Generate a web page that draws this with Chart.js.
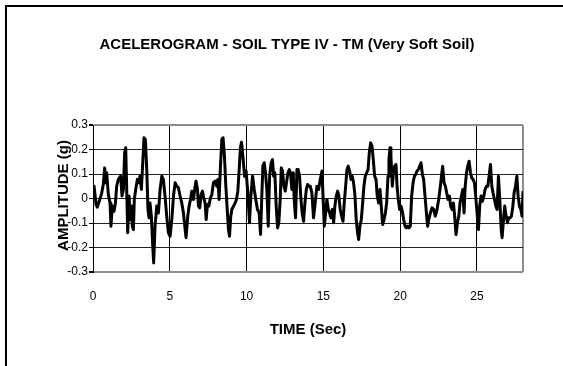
<!DOCTYPE html>
<html>
<head>
<meta charset="utf-8">
<style>
  html, body { margin: 0; padding: 0; background: #fff; overflow: hidden; }
  #frame { position: absolute; left: 5px; top: 5px; width: 700px; height: 500px;
           border-top: 2px solid #000; border-left: 2px solid #000; }
  canvas { position: absolute; left: 0; top: 0; }
</style>
<script src="https://cdn.jsdelivr.net/npm/chart.js@4.4.0/dist/chart.umd.min.js"></script>
</head>
<body>
<div id="frame"></div>
<canvas id="chart" width="563" height="366"></canvas>
<script>
const chartTitle = 'ACELEROGRAM - SOIL TYPE IV - TM (Very Soft Soil)';
const xTitle = 'TIME (Sec)';
const yTitle = 'AMPLITUDE (g)';

// time (s) of each vertex and its amplitude (g)
const timeSec = [
  0.00, 0.07, 0.20, 0.28, 0.41, 0.56, 0.67, 0.76, 0.83, 0.89, 1.00, 1.11, 1.17, 1.26, 1.37, 1.46,
  1.54, 1.65, 1.80, 1.89, 1.98, 2.06, 2.13, 2.19, 2.26, 2.35, 2.43, 2.50, 2.56, 2.63, 2.69, 2.78,
  2.89, 2.98, 3.06, 3.15, 3.24, 3.32, 3.41, 3.50, 3.58, 3.65, 3.71, 3.80, 3.89, 3.95, 4.04, 4.15,
  4.26, 4.37, 4.48, 4.58, 4.69, 4.80, 4.91, 5.02, 5.13, 5.24, 5.35, 5.45, 5.56, 5.67, 5.78, 5.89,
  6.00, 6.06, 6.17, 6.26, 6.35, 6.43, 6.54, 6.65, 6.71, 6.80, 6.87, 6.95, 7.04, 7.13, 7.21, 7.30,
  7.37, 7.45, 7.54, 7.65, 7.74, 7.84, 7.95, 8.06, 8.13, 8.21, 8.30, 8.39, 8.47, 8.56, 8.65, 8.74,
  8.82, 8.89, 8.97, 9.04, 9.15, 9.26, 9.34, 9.43, 9.52, 9.60, 9.67, 9.78, 9.87, 9.97, 10.08, 10.19,
  10.28, 10.39, 10.50, 10.60, 10.71, 10.82, 10.91, 11.00, 11.06, 11.15, 11.23, 11.32, 11.41, 11.50, 11.60, 11.69,
  11.76, 11.84, 11.93, 12.02, 12.10, 12.19, 12.26, 12.34, 12.43, 12.52, 12.60, 12.69, 12.78, 12.86, 12.95, 13.04,
  13.10, 13.19, 13.28, 13.36, 13.45, 13.54, 13.62, 13.71, 13.80, 13.89, 13.97, 14.06, 14.15, 14.25, 14.36, 14.47,
  14.58, 14.69, 14.80, 14.91, 14.97, 15.06, 15.15, 15.23, 15.32, 15.41, 15.49, 15.58, 15.67, 15.75, 15.84, 15.93,
  16.01, 16.10, 16.19, 16.28, 16.36, 16.45, 16.54, 16.62, 16.71, 16.80, 16.88, 16.97, 17.06, 17.14, 17.23, 17.30,
  17.38, 17.47, 17.56, 17.64, 17.73, 17.82, 17.91, 17.99, 18.08, 18.17, 18.25, 18.34, 18.43, 18.51, 18.60, 18.69,
  18.77, 18.86, 18.95, 19.04, 19.12, 19.21, 19.27, 19.34, 19.40, 19.49, 19.56, 19.64, 19.73, 19.80, 19.88, 19.97,
  20.06, 20.14, 20.23, 20.32, 20.40, 20.49, 20.58, 20.66, 20.75, 20.84, 20.93, 21.01, 21.10, 21.19, 21.27, 21.36,
  21.45, 21.53, 21.62, 21.71, 21.79, 21.86, 21.97, 22.08, 22.19, 22.29, 22.40, 22.51, 22.62, 22.69, 22.77, 22.86,
  22.95, 23.03, 23.12, 23.21, 23.29, 23.38, 23.47, 23.55, 23.64, 23.73, 23.82, 23.90, 23.99, 24.08, 24.16, 24.23,
  24.32, 24.40, 24.49, 24.58, 24.66, 24.75, 24.84, 24.92, 25.01, 25.10, 25.18, 25.27, 25.36, 25.45, 25.53, 25.62,
  25.71, 25.79, 25.88, 25.97, 26.05, 26.14, 26.23, 26.31, 26.40, 26.49, 26.58, 26.64, 26.73, 26.81, 26.90, 26.99,
  27.07, 27.16, 27.25, 27.34, 27.42, 27.51, 27.60, 27.68, 27.77, 27.86, 27.94, 27.98, 28.00
];
const ampG = [
  0.000, 0.050, -0.025, -0.035, -0.010, 0.020, 0.057, 0.125, 0.064, 0.105, 0.016, -0.018, -0.113, -0.031, -0.052, -0.018,
  0.050, 0.078, 0.091, 0.010, 0.037, 0.186, 0.207, 0.050, -0.140, 0.010, -0.086, -0.031, -0.113, -0.127, -0.004, 0.037,
  0.078, 0.064, 0.091, 0.037, 0.146, 0.248, 0.241, 0.118, -0.045, -0.079, -0.018, -0.072, -0.195, -0.263, -0.113, -0.031,
  -0.059, 0.037, 0.091, 0.078, 0.010, -0.072, -0.140, -0.154, -0.086, 0.010, 0.064, 0.050, 0.044, 0.010, -0.018, -0.059,
  -0.127, -0.160, -0.072, -0.031, -0.004, 0.030, -0.004, 0.050, 0.071, 0.037, -0.031, -0.038, 0.016, 0.030, 0.003, -0.018,
  -0.086, -0.024, -0.031, 0.003, 0.016, 0.064, 0.071, 0.050, 0.078, -0.004, 0.132, 0.241, 0.248, 0.173, 0.050, -0.045,
  -0.127, -0.154, -0.072, -0.045, -0.031, -0.018, -0.004, 0.030, 0.118, 0.207, 0.230, 0.159, 0.090, 0.112, 0.023, -0.099,
  0.010, 0.091, 0.037, -0.004, -0.045, -0.059, -0.147, 0.023, 0.132, 0.146, 0.105, 0.037, -0.113, 0.091, 0.146, 0.159,
  0.091, 0.105, -0.031, -0.120, -0.099, -0.004, 0.125, 0.112, 0.050, 0.030, 0.064, 0.105, 0.118, 0.105, 0.037, 0.105,
  -0.004, -0.079, 0.118, 0.118, 0.091, -0.004, -0.059, -0.093, -0.018, 0.037, 0.057, 0.050, 0.050, 0.023, -0.079, -0.018,
  0.050, 0.037, 0.078, 0.112, 0.023, -0.113, -0.059, -0.004, -0.045, -0.059, -0.079, -0.045, -0.099, -0.031, 0.010, 0.030,
  0.010, -0.045, -0.072, -0.093, -0.018, 0.050, 0.118, 0.132, 0.112, 0.078, 0.091, 0.064, 0.010, -0.086, -0.140, -0.167,
  -0.113, -0.086, -0.018, 0.050, 0.091, 0.105, 0.118, 0.186, 0.227, 0.214, 0.159, 0.091, 0.078, 0.010, -0.018, 0.037,
  -0.031, -0.106, -0.086, -0.059, -0.018, 0.091, 0.159, 0.207, 0.173, 0.050, 0.105, 0.132, 0.139, 0.050, -0.004, -0.045,
  -0.031, -0.052, -0.086, -0.113, -0.120, -0.113, -0.120, -0.113, 0.010, 0.064, 0.091, 0.098, 0.112, 0.118, 0.132, 0.146,
  0.098, 0.078, 0.010, -0.059, -0.113, -0.086, -0.059, -0.038, -0.045, -0.072, -0.045, -0.004, 0.050, 0.091, 0.132, 0.064,
  0.050, 0.023, -0.004, 0.010, -0.031, -0.045, -0.018, -0.072, -0.147, -0.099, -0.072, -0.018, 0.010, 0.037, -0.059, 0.044,
  0.105, 0.132, 0.152, 0.105, 0.084, 0.078, 0.064, 0.010, -0.059, -0.127, -0.031, 0.010, -0.011, 0.010, 0.037, 0.050,
  0.050, 0.091, 0.139, 0.050, 0.023, -0.004, -0.031, -0.045, 0.091, -0.004, -0.127, -0.160, -0.086, -0.031, -0.072, -0.099,
  -0.079, -0.079, -0.072, -0.031, 0.023, 0.050, 0.091, 0.010, -0.031, -0.045, -0.072, -0.072, 0.030
];

const xMin = 0, xMax = 28, xStep = 5;
const yMin = -0.3, yMax = 0.3, yStep = 0.1;

const points = timeSec.map((t, i) => ({ x: t, y: ampG[i] }));
const font = '"Liberation Sans", Arial, sans-serif';
const isEdgeY = v => Math.abs(Math.abs(v) - 0.3) < 1e-6;

// y axis title sits over the tick labels, as in the original
const yTitlePlugin = {
  id: 'yTitle',
  afterDraw(chart) {
    const { ctx, chartArea } = chart;
    ctx.save();
    ctx.translate(chartArea.left - 25.5, (chartArea.top + chartArea.bottom) / 2 - 3);
    ctx.rotate(-Math.PI / 2);
    ctx.font = 'bold 15px ' + font;
    ctx.fillStyle = '#000';
    ctx.textAlign = 'center';
    ctx.textBaseline = 'alphabetic';
    ctx.fillText(yTitle, 0, 0);
    ctx.restore();
  }
};

new Chart(document.getElementById('chart'), {
  type: 'line',
  data: {
    datasets: [{
      data: points,
      borderColor: '#000',
      borderWidth: 3,
      borderJoinStyle: 'round',
      pointRadius: 0,
      tension: 0,
      fill: false
    }]
  },
  options: {
    responsive: false,
    animation: false,
    devicePixelRatio: 1,
    layout: { padding: { left: 51, right: 40, top: 28, bottom: 0 } },
    plugins: {
      legend: { display: false },
      tooltip: { enabled: false },
      title: {
        display: true,
        text: chartTitle,
        color: '#000',
        font: { family: font, size: 15, weight: 'bold' },
        padding: { top: 8, bottom: 71 }
      }
    },
    scales: {
      x: {
        type: 'linear',
        min: xMin,
        max: xMax,
        afterFit: s => { s.height = 94; },
        afterBuildTicks: s => {
          const ticks = [];
          for (let v = xMin; v < xMax; v += xStep) ticks.push({ value: v });
          ticks.push({ value: xMax });
          s.ticks = ticks;
        },
        ticks: {
          padding: 17,
          color: '#000',
          font: { family: font, size: 12 },
          maxRotation: 0,
          autoSkip: false,
          callback: v => (v === xMax ? '' : String(v))
        },
        grid: {
          drawTicks: false,
          color: c => (c.tick && c.tick.value === xMax ? '#8c8c8c' : '#000'),
          lineWidth: c => (c.tick && c.tick.value === xMax ? 2 : 1)
        },
        border: { display: false },
        title: {
          display: true,
          text: xTitle,
          color: '#000',
          font: { family: font, size: 15, weight: 'bold' },
          padding: { top: 0, bottom: 27 }
        }
      },
      y: {
        min: yMin,
        max: yMax,
        afterFit: s => { s.width = 42; },
        ticks: {
          stepSize: yStep,
          padding: 1,
          color: '#000',
          font: { family: font, size: 12 },
          callback: v => String(Number(v.toFixed(1)))
        },
        grid: {
          drawTicks: true,
          tickLength: 4,
          tickColor: '#000',
          color: c => (isEdgeY(c.tick.value) ? '#8c8c8c' : '#222'),
          lineWidth: c => (isEdgeY(c.tick.value) ? 2 : 1)
        },
        border: { display: true, color: '#000', width: 1 }
      }
    }
  },
  plugins: [yTitlePlugin]
});
</script>
</body>
</html>
